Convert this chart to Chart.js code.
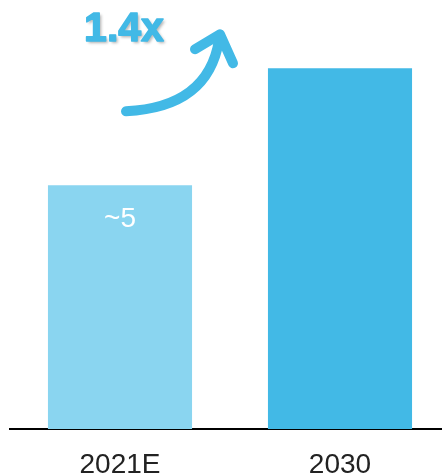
<!DOCTYPE html>
<html>
<head>
<meta charset="utf-8">
<script src="https://cdn.jsdelivr.net/npm/chart.js@4/dist/chart.umd.min.js"></script>
<style>
html,body{margin:0;padding:0;background:#fff;overflow:hidden;}
canvas{display:block;}
</style>
</head>
<body>
<canvas id="c" width="450" height="475"></canvas>
<script>
const categories = ['2021E', '2030'];
const values = [5, 7.4];
const valueLabels = ['~5', ''];
const growthLabel = '1.4x';
const barColors = ['#8AD5F0', '#42B9E6'];

const overlay = {
  id: 'overlay',
  afterDatasetsDraw(chart) {
    const ctx = chart.ctx;
    const meta = chart.getDatasetMeta(0);
    ctx.save();
    // value labels inside bars
    ctx.fillStyle = '#ffffff';
    ctx.font = '28px "Liberation Sans", Arial, sans-serif';
    ctx.textAlign = 'center';
    ctx.textBaseline = 'middle';
    meta.data.forEach((bar, i) => {
      if (valueLabels[i]) ctx.fillText(valueLabels[i], bar.x, bar.y + 34);
    });
    // growth arrow
    const b0 = meta.data[0];
    const sx = b0.x + 6, sy = b0.y - 74;
    const tx = b0.x + 100, ty = b0.y - 151;
    ctx.strokeStyle = '#42B9E6';
    ctx.lineWidth = 10;
    ctx.lineCap = 'round';
    ctx.lineJoin = 'round';
    ctx.beginPath();
    ctx.moveTo(sx, sy);
    ctx.quadraticCurveTo(b0.x + 88, sy - 4, tx - 1, ty + 6);
    ctx.stroke();
    ctx.beginPath();
    ctx.moveTo(b0.x + 75, b0.y - 136);
    ctx.lineTo(tx, ty);
    ctx.lineTo(b0.x + 113, b0.y - 122);
    ctx.stroke();
    // growth text
    ctx.font = 'bold 41px "Liberation Sans", Arial, sans-serif';
    ctx.shadowColor = 'rgba(0,0,0,0.3)';
    ctx.shadowOffsetX = 2;
    ctx.shadowOffsetY = 2;
    ctx.shadowBlur = 3;
    ctx.fillStyle = '#42B9E6';
    ctx.strokeStyle = '#42B9E6';
    ctx.lineWidth = 1.5;
    ctx.fillText(growthLabel, b0.x + 4, b0.y - 156);
    ctx.shadowColor = 'transparent';
    ctx.strokeText(growthLabel, b0.x + 4, b0.y - 156);
    ctx.restore();
  }
};

new Chart(document.getElementById('c'), {
  type: 'bar',
  data: {
    labels: categories,
    datasets: [{
      data: values,
      backgroundColor: barColors,
      borderWidth: 0,
      barPercentage: 0.655,
      categoryPercentage: 1
    }]
  },
  options: {
    responsive: false,
    animation: false,
    layout: { padding: { left: 10, right: 0, top: 0, bottom: 0 } },
    plugins: { legend: { display: false }, tooltip: { enabled: false } },
    scales: {
      x: {
        grid: { display: false, drawTicks: false },
        border: { display: true, color: '#000', width: 2 },
        ticks: {
          color: '#222',
          padding: 22,
          font: { family: '"Liberation Sans", Arial, sans-serif', size: 28, lineHeight: 1 }
        },
        afterFit(scale) { scale.height = 46; }
      },
      y: {
        display: false,
        min: 0,
        max: 8.8
      }
    }
  },
  plugins: [overlay]
});
</script>
</body>
</html>
